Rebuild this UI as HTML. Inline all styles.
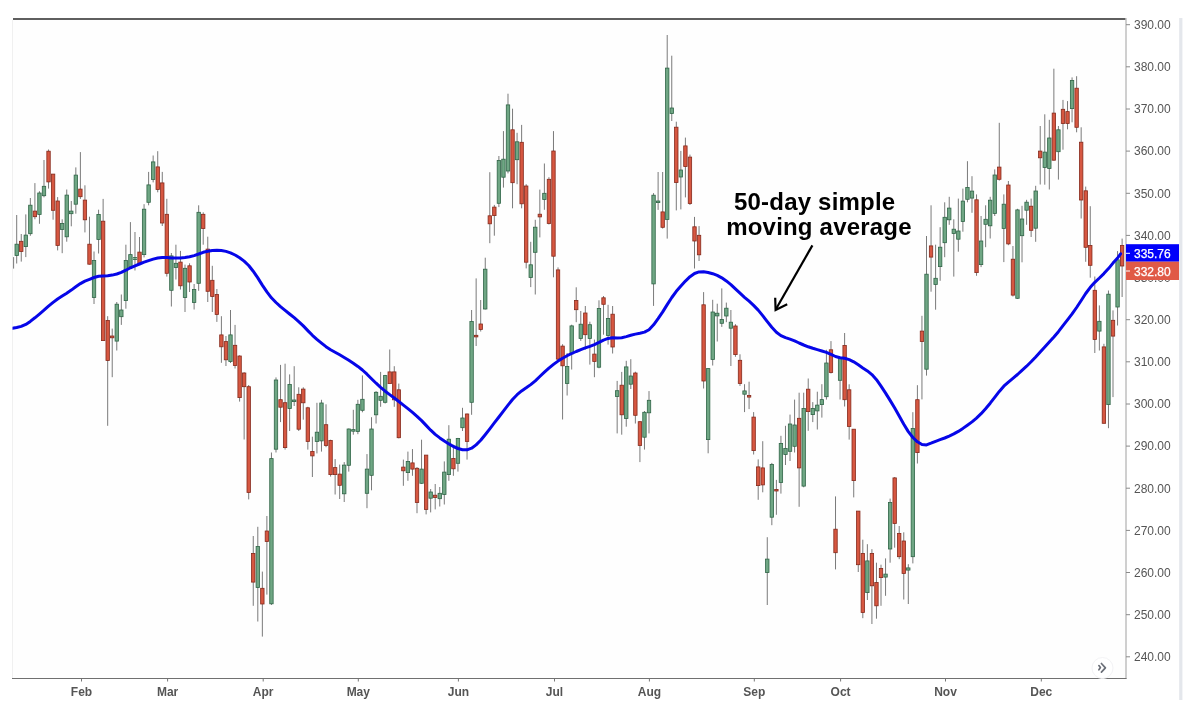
<!DOCTYPE html>
<html><head><meta charset="utf-8"><style>
html,body{margin:0;padding:0;background:#fff;}
body{width:1204px;height:706px;overflow:hidden;position:relative;}
svg{position:absolute;left:0;top:0;}
.pl{font-family:"Liberation Sans",Arial,sans-serif;font-size:12px;fill:#555;}
.ml{font-family:"Liberation Sans",Arial,sans-serif;font-size:12px;font-weight:bold;fill:#555;}
.an{font-family:"Liberation Sans",Arial,sans-serif;font-size:24px;font-weight:bold;fill:#000;letter-spacing:0.2px;}
.lb{font-family:"Liberation Sans",Arial,sans-serif;font-size:12px;fill:#fff;stroke:#fff;stroke-width:0.25px;}
</style></head><body>
<svg width="1204" height="706" viewBox="0 0 1204 706">
<rect x="0" y="0" width="1204" height="706" fill="#fff"/>
<rect x="12" y="20" width="1114" height="658" fill="#fefefe"/>
<line x1="12.5" y1="20" x2="12.5" y2="678" stroke="#f0f0f0" stroke-width="1"/>
<rect x="1179.2" y="18" width="3.2" height="682" fill="#e4e7ec"/>
<clipPath id="cp"><rect x="12.5" y="20" width="1113" height="658"/></clipPath>
<g clip-path="url(#cp)">
<path d="M16.70 215.0V263.5M21.25 234.0V261.6M25.80 214.4V257.1M30.35 198.0V235.8M34.90 183.1V219.3M39.44 191.2V223.8M43.99 160.0V197.3M48.54 149.5V188.6M53.09 174.1V219.7M57.64 197.1V250.4M62.19 219.3V253.2M66.74 189.5V241.7M71.29 201.0V226.3M75.84 167.4V213.7M80.39 152.1V198.9M84.93 185.3V232.4M89.48 216.7V264.6M94.03 251.5V304.0M98.58 209.7V253.5M103.13 198.9V341.0M107.68 316.2V425.8M112.23 328.6V377.2M116.78 302.0V350.5M121.33 294.5V324.9M125.88 244.7V308.7M130.42 222.1V268.0M134.97 232.0V270.5M139.52 237.0V264.5M144.07 204.2V257.4M148.62 171.9V205.3M153.17 155.5V182.4M157.72 151.2V192.3M162.27 171.9V226.0M166.82 198.8V276.6M171.37 253.0V306.5M175.91 244.7V279.5M180.46 250.9V289.5M185.01 264.6V312.0M189.56 263.3V292.0M194.11 284.0V309.5M198.66 205.3V290.8M203.21 212.3V244.7M207.76 236.7V302.0M212.31 265.8V312.0M216.86 289.0V321.9M221.40 316.2V362.8M225.95 336.0V366.0M230.50 310.0V363.0M235.05 324.9V368.5M239.60 355.3V401.6M244.15 372.2V439.5M248.70 385.0V499.4M253.25 536.0V605.8M257.80 526.8V621.5M262.35 571.6V636.6M266.89 516.0V594.6M271.44 452.5V605.0M275.99 377.4V452.5M280.54 364.9V422.1M285.09 363.7V449.6M289.64 374.4V431.0M294.19 366.2V406.0M298.74 387.3V431.0M303.29 387.3V419.7M307.83 406.8V449.6M312.38 436.7V477.0M316.93 402.8V453.4M321.48 399.8V451.6M326.03 404.3V447.2M330.58 439.7V476.6M335.13 459.1V494.5M339.68 464.6V499.0M344.23 462.1V502.0M348.78 428.5V471.6M353.32 409.8V434.7M357.87 399.8V434.2M362.42 375.4V412.3M366.97 454.1V508.2M371.52 417.2V490.3M376.07 391.1V423.5M380.62 371.9V406.8M385.17 374.9V403.5M389.72 349.5V383.6M394.27 366.2V406.8M398.81 383.6V438.4M403.36 459.6V485.8M407.91 451.6V480.8M412.46 449.1V475.8M417.01 467.1V513.2M421.56 439.7V484.0M426.11 455.0V514.4M430.66 489.0V512.4M435.21 484.0V509.4M439.76 487.0V506.5M444.31 461.4V504.5M448.85 425.2V480.8M453.40 444.7V475.8M457.95 437.9V471.6M462.50 407.8V431.0M467.05 413.5V459.6M471.60 310.0V414.8M476.15 278.4V346.0M480.70 300.0V331.5M485.25 257.7V309.5M489.80 172.2V243.2M494.34 204.9V235.7M498.89 156.0V207.1M503.44 131.1V187.6M507.99 93.7V173.4M512.54 108.7V208.3M517.09 132.8V184.2M521.64 124.9V208.3M526.19 184.2V268.4M530.74 241.8V287.1M535.28 219.8V294.5M539.83 189.6V237.4M544.38 163.5V209.8M548.93 177.2V224.5M553.48 131.1V277.3M558.03 267.4V360.0M562.58 344.2V419.5M567.13 353.0V395.5M571.68 324.7V369.5M576.23 287.3V322.2M580.77 311.0V340.9M585.32 306.0V349.6M589.87 321.7V364.6M594.42 339.6V377.2M598.97 300.3V368.3M603.52 296.0V334.7M608.07 304.8V344.6M612.62 306.0V353.5M617.17 380.9V433.4M621.72 371.9V434.7M626.26 360.8V426.7M630.81 359.2V389.0M635.36 371.7V423.5M639.91 421.0V462.1M644.46 411.0V449.6M649.01 391.1V433.4M653.56 193.1V305.9M658.11 172.0V209.9M662.66 172.0V228.6M667.21 35.0V238.6M671.75 55.7V121.0M676.30 121.7V210.4M680.85 150.9V209.4M685.40 137.6V197.4M689.95 154.6V205.0M694.50 216.9V268.5M699.05 226.1V261.0M703.60 292.1V388.5M708.15 368.5V453.3M712.70 299.8V365.5M717.25 303.7V341.5M721.79 288.4V326.9M726.34 302.6V322.2M730.89 310.0V366.0M735.44 324.2V356.8M739.99 354.3V385.9M744.54 384.2V412.1M749.09 381.7V409.1M753.64 412.1V454.5M758.19 459.4V499.8M762.74 441.2V492.3M767.28 537.2V605.0M771.83 462.9V525.2M776.38 479.9V514.8M780.93 435.8V493.6M785.48 425.8V465.0M790.03 414.6V461.0M794.58 399.6V452.5M799.13 392.7V506.8M803.68 392.7V487.3M808.23 378.5V430.8M812.77 402.1V422.1M817.32 391.7V429.5M821.87 384.2V417.6M826.42 349.8V399.6M830.97 341.1V373.5M835.52 496.4V569.4M840.07 358.3V399.5M844.62 333.0V406.5M849.17 384.3V439.6M853.72 429.2V497.4M858.26 511.0V572.0M862.81 539.7V618.2M867.36 544.2V600.0M871.91 549.2V624.0M876.46 562.7V618.7M881.01 564.7V605.8M885.56 558.4V595.8M890.11 498.6V562.7M894.66 477.0V547.7M899.21 526.0V559.2M903.75 532.3V599.5M908.30 564.2V604.0M912.85 412.2V563.4M917.40 385.2V463.5M921.95 315.8V399.4M926.50 236.0V375.6M931.05 205.3V291.7M935.60 244.7V309.7M940.15 227.2V280.8M944.70 202.3V257.2M949.24 196.8V224.8M953.79 219.3V276.6M958.34 198.6V251.7M962.89 188.6V231.7M967.44 161.2V202.3M971.99 176.2V212.8M976.54 194.4V275.8M981.09 216.0V267.1M985.64 205.3V247.2M990.19 196.8V238.5M994.73 169.4V216.0M999.28 122.8V180.6M1003.83 194.4V262.1M1008.38 181.0V245.2M1012.93 246.0V296.5M1017.48 208.8V299.0M1022.03 205.8V262.3M1026.58 199.8V224.8M1031.13 198.6V237.0M1035.68 185.8V241.8M1040.22 126.0V184.5M1044.77 114.3V184.7M1049.32 119.8V189.5M1053.87 68.7V160.5M1058.42 126.0V179.6M1062.97 99.9V149.7M1067.52 101.1V129.3M1072.07 77.4V122.3M1076.62 76.2V132.3M1081.17 127.3V218.5M1085.71 186.6V261.8M1090.26 206.2V277.7M1094.81 276.5V353.0M1099.36 305.4V350.5M1103.91 343.8V423.5M1108.46 290.5V428.2M1113.01 310.4V397.1M1117.56 251.1V325.5M1122.11 238.6V297.0M13.6 257.1V268.6" stroke="#7a7a7a" stroke-width="1" fill="none"/>
<rect x="15.00" y="244.2" width="3.4" height="11.3" fill="#6fa684" stroke="#2f6446" stroke-width="0.8"/><rect x="19.55" y="241.3" width="3.4" height="10.2" fill="#d65741" stroke="#85291b" stroke-width="0.8"/><rect x="24.10" y="235.1" width="3.4" height="11.5" fill="#6fa684" stroke="#2f6446" stroke-width="0.8"/><rect x="28.65" y="205.2" width="3.4" height="28.5" fill="#6fa684" stroke="#2f6446" stroke-width="0.8"/><rect x="33.20" y="211.1" width="3.4" height="5.6" fill="#d65741" stroke="#85291b" stroke-width="0.8"/><rect x="37.74" y="193.0" width="3.4" height="21.4" fill="#6fa684" stroke="#2f6446" stroke-width="0.8"/><rect x="42.29" y="186.3" width="3.4" height="9.4" fill="#6fa684" stroke="#2f6446" stroke-width="0.8"/><rect x="46.84" y="151.2" width="3.4" height="30.7" fill="#d65741" stroke="#85291b" stroke-width="0.8"/><rect x="51.39" y="174.1" width="3.4" height="36.2" fill="#d65741" stroke="#85291b" stroke-width="0.8"/><rect x="55.94" y="201.0" width="3.4" height="44.4" fill="#d65741" stroke="#85291b" stroke-width="0.8"/><rect x="60.49" y="223.5" width="3.4" height="5.9" fill="#6fa684" stroke="#2f6446" stroke-width="0.8"/><rect x="65.04" y="195.1" width="3.4" height="41.7" fill="#6fa684" stroke="#2f6446" stroke-width="0.8"/><rect x="69.59" y="211.1" width="3.4" height="2.6" fill="#6fa684" stroke="#2f6446" stroke-width="0.8"/><rect x="74.14" y="175.1" width="3.4" height="29.1" fill="#6fa684" stroke="#2f6446" stroke-width="0.8"/><rect x="78.69" y="189.1" width="3.4" height="7.6" fill="#d65741" stroke="#85291b" stroke-width="0.8"/><rect x="83.23" y="200.1" width="3.4" height="19.7" fill="#d65741" stroke="#85291b" stroke-width="0.8"/><rect x="87.78" y="244.2" width="3.4" height="20.0" fill="#d65741" stroke="#85291b" stroke-width="0.8"/><rect x="92.33" y="260.5" width="3.4" height="37.0" fill="#6fa684" stroke="#2f6446" stroke-width="0.8"/><rect x="96.88" y="214.4" width="3.4" height="25.0" fill="#6fa684" stroke="#2f6446" stroke-width="0.8"/><rect x="101.43" y="221.2" width="3.4" height="119.4" fill="#d65741" stroke="#85291b" stroke-width="0.8"/><rect x="105.98" y="320.4" width="3.4" height="40.1" fill="#d65741" stroke="#85291b" stroke-width="0.8"/><rect x="110.53" y="336.0" width="3.4" height="1.8" fill="#d65741" stroke="#85291b" stroke-width="0.8"/><rect x="115.08" y="304.2" width="3.4" height="36.9" fill="#6fa684" stroke="#2f6446" stroke-width="0.8"/><rect x="119.63" y="310.0" width="3.4" height="6.7" fill="#6fa684" stroke="#2f6446" stroke-width="0.8"/><rect x="124.18" y="260.5" width="3.4" height="40.1" fill="#6fa684" stroke="#2f6446" stroke-width="0.8"/><rect x="128.72" y="254.6" width="3.4" height="12.4" fill="#6fa684" stroke="#2f6446" stroke-width="0.8"/><rect x="133.27" y="257.6" width="3.4" height="1.9" fill="#6fa684" stroke="#2f6446" stroke-width="0.8"/><rect x="137.82" y="252.1" width="3.4" height="11.7" fill="#d65741" stroke="#85291b" stroke-width="0.8"/><rect x="142.37" y="209.2" width="3.4" height="45.4" fill="#6fa684" stroke="#2f6446" stroke-width="0.8"/><rect x="146.92" y="184.9" width="3.4" height="17.4" fill="#6fa684" stroke="#2f6446" stroke-width="0.8"/><rect x="151.47" y="161.9" width="3.4" height="17.5" fill="#6fa684" stroke="#2f6446" stroke-width="0.8"/><rect x="156.02" y="166.9" width="3.4" height="22.6" fill="#d65741" stroke="#85291b" stroke-width="0.8"/><rect x="160.57" y="182.9" width="3.4" height="40.1" fill="#d65741" stroke="#85291b" stroke-width="0.8"/><rect x="165.12" y="214.3" width="3.4" height="59.0" fill="#d65741" stroke="#85291b" stroke-width="0.8"/><rect x="169.67" y="255.9" width="3.4" height="34.4" fill="#6fa684" stroke="#2f6446" stroke-width="0.8"/><rect x="174.21" y="263.3" width="3.4" height="4.3" fill="#6fa684" stroke="#2f6446" stroke-width="0.8"/><rect x="178.76" y="262.1" width="3.4" height="23.7" fill="#d65741" stroke="#85291b" stroke-width="0.8"/><rect x="183.31" y="268.3" width="3.4" height="29.2" fill="#6fa684" stroke="#2f6446" stroke-width="0.8"/><rect x="187.86" y="265.8" width="3.4" height="16.2" fill="#d65741" stroke="#85291b" stroke-width="0.8"/><rect x="192.41" y="289.5" width="3.4" height="13.0" fill="#6fa684" stroke="#2f6446" stroke-width="0.8"/><rect x="196.96" y="212.3" width="3.4" height="71.0" fill="#6fa684" stroke="#2f6446" stroke-width="0.8"/><rect x="201.51" y="214.3" width="3.4" height="14.2" fill="#d65741" stroke="#85291b" stroke-width="0.8"/><rect x="206.06" y="249.1" width="3.4" height="42.2" fill="#d65741" stroke="#85291b" stroke-width="0.8"/><rect x="210.61" y="280.3" width="3.4" height="16.2" fill="#d65741" stroke="#85291b" stroke-width="0.8"/><rect x="215.16" y="294.5" width="3.4" height="19.9" fill="#d65741" stroke="#85291b" stroke-width="0.8"/><rect x="219.70" y="334.9" width="3.4" height="11.9" fill="#d65741" stroke="#85291b" stroke-width="0.8"/><rect x="224.25" y="341.6" width="3.4" height="18.2" fill="#d65741" stroke="#85291b" stroke-width="0.8"/><rect x="228.80" y="334.9" width="3.4" height="26.6" fill="#6fa684" stroke="#2f6446" stroke-width="0.8"/><rect x="233.35" y="345.3" width="3.4" height="20.2" fill="#d65741" stroke="#85291b" stroke-width="0.8"/><rect x="237.90" y="356.0" width="3.4" height="41.6" fill="#d65741" stroke="#85291b" stroke-width="0.8"/><rect x="242.45" y="373.0" width="3.4" height="13.7" fill="#d65741" stroke="#85291b" stroke-width="0.8"/><rect x="247.00" y="386.7" width="3.4" height="105.7" fill="#d65741" stroke="#85291b" stroke-width="0.8"/><rect x="251.55" y="553.4" width="3.4" height="28.7" fill="#d65741" stroke="#85291b" stroke-width="0.8"/><rect x="256.10" y="546.5" width="3.4" height="41.1" fill="#6fa684" stroke="#2f6446" stroke-width="0.8"/><rect x="260.65" y="588.3" width="3.4" height="15.7" fill="#d65741" stroke="#85291b" stroke-width="0.8"/><rect x="265.19" y="531.0" width="3.4" height="10.5" fill="#d65741" stroke="#85291b" stroke-width="0.8"/><rect x="269.74" y="458.6" width="3.4" height="145.2" fill="#6fa684" stroke="#2f6446" stroke-width="0.8"/><rect x="274.29" y="380.0" width="3.4" height="69.2" fill="#6fa684" stroke="#2f6446" stroke-width="0.8"/><rect x="278.84" y="399.7" width="3.4" height="7.5" fill="#d65741" stroke="#85291b" stroke-width="0.8"/><rect x="283.39" y="402.7" width="3.4" height="44.9" fill="#d65741" stroke="#85291b" stroke-width="0.8"/><rect x="287.94" y="384.5" width="3.4" height="24.0" fill="#6fa684" stroke="#2f6446" stroke-width="0.8"/><rect x="292.49" y="400.0" width="3.4" height="1.6" fill="#6fa684" stroke="#2f6446" stroke-width="0.8"/><rect x="297.04" y="394.3" width="3.4" height="34.9" fill="#d65741" stroke="#85291b" stroke-width="0.8"/><rect x="301.59" y="389.1" width="3.4" height="13.7" fill="#d65741" stroke="#85291b" stroke-width="0.8"/><rect x="306.13" y="407.8" width="3.4" height="33.6" fill="#d65741" stroke="#85291b" stroke-width="0.8"/><rect x="310.68" y="451.4" width="3.4" height="4.5" fill="#d65741" stroke="#85291b" stroke-width="0.8"/><rect x="315.23" y="432.2" width="3.4" height="9.2" fill="#6fa684" stroke="#2f6446" stroke-width="0.8"/><rect x="319.78" y="403.0" width="3.4" height="37.9" fill="#6fa684" stroke="#2f6446" stroke-width="0.8"/><rect x="324.33" y="424.7" width="3.4" height="20.7" fill="#d65741" stroke="#85291b" stroke-width="0.8"/><rect x="328.88" y="440.4" width="3.4" height="34.2" fill="#d65741" stroke="#85291b" stroke-width="0.8"/><rect x="333.43" y="467.6" width="3.4" height="7.0" fill="#d65741" stroke="#85291b" stroke-width="0.8"/><rect x="337.98" y="474.1" width="3.4" height="11.2" fill="#d65741" stroke="#85291b" stroke-width="0.8"/><rect x="342.53" y="465.1" width="3.4" height="28.7" fill="#6fa684" stroke="#2f6446" stroke-width="0.8"/><rect x="347.08" y="429.0" width="3.4" height="36.3" fill="#6fa684" stroke="#2f6446" stroke-width="0.8"/><rect x="351.62" y="429.6" width="3.4" height="1.6" fill="#6fa684" stroke="#2f6446" stroke-width="0.8"/><rect x="356.17" y="404.3" width="3.4" height="27.2" fill="#6fa684" stroke="#2f6446" stroke-width="0.8"/><rect x="360.72" y="399.3" width="3.4" height="11.0" fill="#6fa684" stroke="#2f6446" stroke-width="0.8"/><rect x="365.27" y="469.1" width="3.4" height="24.2" fill="#6fa684" stroke="#2f6446" stroke-width="0.8"/><rect x="369.82" y="429.0" width="3.4" height="46.3" fill="#6fa684" stroke="#2f6446" stroke-width="0.8"/><rect x="374.37" y="392.3" width="3.4" height="22.5" fill="#6fa684" stroke="#2f6446" stroke-width="0.8"/><rect x="378.92" y="396.3" width="3.4" height="4.0" fill="#6fa684" stroke="#2f6446" stroke-width="0.8"/><rect x="383.47" y="375.6" width="3.4" height="26.7" fill="#6fa684" stroke="#2f6446" stroke-width="0.8"/><rect x="388.02" y="371.9" width="3.4" height="11.7" fill="#d65741" stroke="#85291b" stroke-width="0.8"/><rect x="392.57" y="371.9" width="3.4" height="27.9" fill="#d65741" stroke="#85291b" stroke-width="0.8"/><rect x="397.12" y="389.8" width="3.4" height="47.9" fill="#d65741" stroke="#85291b" stroke-width="0.8"/><rect x="401.66" y="467.1" width="3.4" height="3.7" fill="#d65741" stroke="#85291b" stroke-width="0.8"/><rect x="406.21" y="461.4" width="3.4" height="11.2" fill="#6fa684" stroke="#2f6446" stroke-width="0.8"/><rect x="410.76" y="462.9" width="3.4" height="6.2" fill="#d65741" stroke="#85291b" stroke-width="0.8"/><rect x="415.31" y="468.3" width="3.4" height="34.2" fill="#d65741" stroke="#85291b" stroke-width="0.8"/><rect x="419.86" y="469.1" width="3.4" height="14.2" fill="#6fa684" stroke="#2f6446" stroke-width="0.8"/><rect x="424.41" y="455.1" width="3.4" height="54.3" fill="#d65741" stroke="#85291b" stroke-width="0.8"/><rect x="428.96" y="492.0" width="3.4" height="6.2" fill="#6fa684" stroke="#2f6446" stroke-width="0.8"/><rect x="433.51" y="495.2" width="3.4" height="2.3" fill="#d65741" stroke="#85291b" stroke-width="0.8"/><rect x="438.06" y="493.3" width="3.4" height="5.4" fill="#6fa684" stroke="#2f6446" stroke-width="0.8"/><rect x="442.61" y="472.1" width="3.4" height="22.4" fill="#6fa684" stroke="#2f6446" stroke-width="0.8"/><rect x="447.15" y="439.2" width="3.4" height="35.4" fill="#6fa684" stroke="#2f6446" stroke-width="0.8"/><rect x="451.70" y="458.4" width="3.4" height="10.4" fill="#d65741" stroke="#85291b" stroke-width="0.8"/><rect x="456.25" y="438.4" width="3.4" height="24.9" fill="#6fa684" stroke="#2f6446" stroke-width="0.8"/><rect x="460.80" y="418.0" width="3.4" height="9.7" fill="#6fa684" stroke="#2f6446" stroke-width="0.8"/><rect x="465.35" y="414.0" width="3.4" height="27.4" fill="#d65741" stroke="#85291b" stroke-width="0.8"/><rect x="469.90" y="321.5" width="3.4" height="80.8" fill="#6fa684" stroke="#2f6446" stroke-width="0.8"/><rect x="474.45" y="335.3" width="3.4" height="1.6" fill="#d65741" stroke="#85291b" stroke-width="0.8"/><rect x="479.00" y="324.0" width="3.4" height="5.5" fill="#d65741" stroke="#85291b" stroke-width="0.8"/><rect x="483.55" y="269.2" width="3.4" height="39.8" fill="#6fa684" stroke="#2f6446" stroke-width="0.8"/><rect x="488.10" y="215.8" width="3.4" height="8.0" fill="#d65741" stroke="#85291b" stroke-width="0.8"/><rect x="492.64" y="207.1" width="3.4" height="8.5" fill="#d65741" stroke="#85291b" stroke-width="0.8"/><rect x="497.19" y="160.5" width="3.4" height="42.8" fill="#6fa684" stroke="#2f6446" stroke-width="0.8"/><rect x="501.74" y="159.2" width="3.4" height="18.0" fill="#6fa684" stroke="#2f6446" stroke-width="0.8"/><rect x="506.29" y="104.9" width="3.4" height="66.1" fill="#6fa684" stroke="#2f6446" stroke-width="0.8"/><rect x="510.84" y="129.8" width="3.4" height="52.9" fill="#d65741" stroke="#85291b" stroke-width="0.8"/><rect x="515.39" y="141.8" width="3.4" height="17.9" fill="#6fa684" stroke="#2f6446" stroke-width="0.8"/><rect x="519.94" y="142.3" width="3.4" height="61.5" fill="#d65741" stroke="#85291b" stroke-width="0.8"/><rect x="524.49" y="186.0" width="3.4" height="76.2" fill="#d65741" stroke="#85291b" stroke-width="0.8"/><rect x="529.04" y="264.8" width="3.4" height="12.7" fill="#6fa684" stroke="#2f6446" stroke-width="0.8"/><rect x="533.58" y="227.2" width="3.4" height="25.1" fill="#6fa684" stroke="#2f6446" stroke-width="0.8"/><rect x="538.13" y="214.2" width="3.4" height="2.7" fill="#d65741" stroke="#85291b" stroke-width="0.8"/><rect x="542.68" y="193.3" width="3.4" height="6.2" fill="#6fa684" stroke="#2f6446" stroke-width="0.8"/><rect x="547.23" y="179.3" width="3.4" height="44.1" fill="#d65741" stroke="#85291b" stroke-width="0.8"/><rect x="551.78" y="151.0" width="3.4" height="105.2" fill="#d65741" stroke="#85291b" stroke-width="0.8"/><rect x="556.33" y="269.9" width="3.4" height="89.2" fill="#d65741" stroke="#85291b" stroke-width="0.8"/><rect x="560.88" y="346.1" width="3.4" height="19.7" fill="#d65741" stroke="#85291b" stroke-width="0.8"/><rect x="565.43" y="366.4" width="3.4" height="17.0" fill="#6fa684" stroke="#2f6446" stroke-width="0.8"/><rect x="569.98" y="325.9" width="3.4" height="27.9" fill="#6fa684" stroke="#2f6446" stroke-width="0.8"/><rect x="574.53" y="300.5" width="3.4" height="9.2" fill="#d65741" stroke="#85291b" stroke-width="0.8"/><rect x="579.07" y="324.2" width="3.4" height="14.2" fill="#6fa684" stroke="#2f6446" stroke-width="0.8"/><rect x="583.62" y="313.0" width="3.4" height="21.7" fill="#d65741" stroke="#85291b" stroke-width="0.8"/><rect x="588.17" y="324.7" width="3.4" height="13.7" fill="#6fa684" stroke="#2f6446" stroke-width="0.8"/><rect x="592.72" y="354.1" width="3.4" height="7.3" fill="#d65741" stroke="#85291b" stroke-width="0.8"/><rect x="597.27" y="308.5" width="3.4" height="58.7" fill="#6fa684" stroke="#2f6446" stroke-width="0.8"/><rect x="601.82" y="297.8" width="3.4" height="6.5" fill="#d65741" stroke="#85291b" stroke-width="0.8"/><rect x="606.37" y="318.5" width="3.4" height="16.9" fill="#6fa684" stroke="#2f6446" stroke-width="0.8"/><rect x="610.92" y="314.2" width="3.4" height="32.8" fill="#d65741" stroke="#85291b" stroke-width="0.8"/><rect x="615.47" y="390.7" width="3.4" height="5.8" fill="#6fa684" stroke="#2f6446" stroke-width="0.8"/><rect x="620.02" y="385.2" width="3.4" height="29.6" fill="#d65741" stroke="#85291b" stroke-width="0.8"/><rect x="624.56" y="366.9" width="3.4" height="51.6" fill="#6fa684" stroke="#2f6446" stroke-width="0.8"/><rect x="629.11" y="376.0" width="3.4" height="8.2" fill="#6fa684" stroke="#2f6446" stroke-width="0.8"/><rect x="633.66" y="373.0" width="3.4" height="42.3" fill="#d65741" stroke="#85291b" stroke-width="0.8"/><rect x="638.21" y="421.7" width="3.4" height="23.7" fill="#d65741" stroke="#85291b" stroke-width="0.8"/><rect x="642.76" y="412.3" width="3.4" height="24.9" fill="#6fa684" stroke="#2f6446" stroke-width="0.8"/><rect x="647.31" y="400.3" width="3.4" height="12.5" fill="#6fa684" stroke="#2f6446" stroke-width="0.8"/><rect x="651.86" y="195.2" width="3.4" height="88.7" fill="#6fa684" stroke="#2f6446" stroke-width="0.8"/><rect x="656.41" y="201.0" width="3.4" height="1.6" fill="#6fa684" stroke="#2f6446" stroke-width="0.8"/><rect x="660.96" y="211.9" width="3.4" height="15.4" fill="#d65741" stroke="#85291b" stroke-width="0.8"/><rect x="665.51" y="68.1" width="3.4" height="151.3" fill="#6fa684" stroke="#2f6446" stroke-width="0.8"/><rect x="670.05" y="108.0" width="3.4" height="5.5" fill="#6fa684" stroke="#2f6446" stroke-width="0.8"/><rect x="674.60" y="127.2" width="3.4" height="55.3" fill="#d65741" stroke="#85291b" stroke-width="0.8"/><rect x="679.15" y="170.0" width="3.4" height="7.0" fill="#6fa684" stroke="#2f6446" stroke-width="0.8"/><rect x="683.70" y="145.9" width="3.4" height="20.7" fill="#d65741" stroke="#85291b" stroke-width="0.8"/><rect x="688.25" y="157.1" width="3.4" height="46.4" fill="#d65741" stroke="#85291b" stroke-width="0.8"/><rect x="692.80" y="226.8" width="3.4" height="14.2" fill="#d65741" stroke="#85291b" stroke-width="0.8"/><rect x="697.35" y="235.3" width="3.4" height="19.5" fill="#d65741" stroke="#85291b" stroke-width="0.8"/><rect x="701.90" y="304.8" width="3.4" height="76.2" fill="#d65741" stroke="#85291b" stroke-width="0.8"/><rect x="706.45" y="368.6" width="3.4" height="71.0" fill="#6fa684" stroke="#2f6446" stroke-width="0.8"/><rect x="711.00" y="312.0" width="3.4" height="47.4" fill="#6fa684" stroke="#2f6446" stroke-width="0.8"/><rect x="715.54" y="313.2" width="3.4" height="2.7" fill="#6fa684" stroke="#2f6446" stroke-width="0.8"/><rect x="720.09" y="319.4" width="3.4" height="3.9" fill="#6fa684" stroke="#2f6446" stroke-width="0.8"/><rect x="724.64" y="308.2" width="3.4" height="7.8" fill="#6fa684" stroke="#2f6446" stroke-width="0.8"/><rect x="729.19" y="322.2" width="3.4" height="6.0" fill="#6fa684" stroke="#2f6446" stroke-width="0.8"/><rect x="733.74" y="326.0" width="3.4" height="28.6" fill="#d65741" stroke="#85291b" stroke-width="0.8"/><rect x="738.29" y="360.3" width="3.4" height="23.1" fill="#d65741" stroke="#85291b" stroke-width="0.8"/><rect x="742.84" y="390.9" width="3.4" height="3.3" fill="#6fa684" stroke="#2f6446" stroke-width="0.8"/><rect x="747.39" y="395.5" width="3.4" height="1.6" fill="#d65741" stroke="#85291b" stroke-width="0.8"/><rect x="751.94" y="417.1" width="3.4" height="33.5" fill="#d65741" stroke="#85291b" stroke-width="0.8"/><rect x="756.49" y="466.9" width="3.4" height="18.7" fill="#d65741" stroke="#85291b" stroke-width="0.8"/><rect x="761.03" y="467.9" width="3.4" height="17.0" fill="#d65741" stroke="#85291b" stroke-width="0.8"/><rect x="765.58" y="559.1" width="3.4" height="13.5" fill="#6fa684" stroke="#2f6446" stroke-width="0.8"/><rect x="770.13" y="464.4" width="3.4" height="52.8" fill="#6fa684" stroke="#2f6446" stroke-width="0.8"/><rect x="774.68" y="489.4" width="3.4" height="1.6" fill="#d65741" stroke="#85291b" stroke-width="0.8"/><rect x="779.23" y="443.5" width="3.4" height="38.9" fill="#6fa684" stroke="#2f6446" stroke-width="0.8"/><rect x="783.78" y="448.5" width="3.4" height="6.0" fill="#6fa684" stroke="#2f6446" stroke-width="0.8"/><rect x="788.33" y="424.0" width="3.4" height="27.3" fill="#6fa684" stroke="#2f6446" stroke-width="0.8"/><rect x="792.88" y="425.0" width="3.4" height="21.3" fill="#6fa684" stroke="#2f6446" stroke-width="0.8"/><rect x="797.43" y="418.3" width="3.4" height="49.6" fill="#d65741" stroke="#85291b" stroke-width="0.8"/><rect x="801.98" y="408.4" width="3.4" height="77.7" fill="#6fa684" stroke="#2f6446" stroke-width="0.8"/><rect x="806.52" y="389.2" width="3.4" height="22.4" fill="#d65741" stroke="#85291b" stroke-width="0.8"/><rect x="811.07" y="408.4" width="3.4" height="6.2" fill="#6fa684" stroke="#2f6446" stroke-width="0.8"/><rect x="815.62" y="405.1" width="3.4" height="5.8" fill="#6fa684" stroke="#2f6446" stroke-width="0.8"/><rect x="820.17" y="399.6" width="3.4" height="5.0" fill="#6fa684" stroke="#2f6446" stroke-width="0.8"/><rect x="824.72" y="363.0" width="3.4" height="33.7" fill="#6fa684" stroke="#2f6446" stroke-width="0.8"/><rect x="829.27" y="349.8" width="3.4" height="22.7" fill="#d65741" stroke="#85291b" stroke-width="0.8"/><rect x="833.82" y="529.2" width="3.4" height="23.5" fill="#d65741" stroke="#85291b" stroke-width="0.8"/><rect x="838.37" y="358.5" width="3.4" height="21.8" fill="#6fa684" stroke="#2f6446" stroke-width="0.8"/><rect x="842.92" y="345.4" width="3.4" height="54.3" fill="#d65741" stroke="#85291b" stroke-width="0.8"/><rect x="847.47" y="389.8" width="3.4" height="36.7" fill="#d65741" stroke="#85291b" stroke-width="0.8"/><rect x="852.01" y="429.2" width="3.4" height="51.4" fill="#d65741" stroke="#85291b" stroke-width="0.8"/><rect x="856.56" y="511.1" width="3.4" height="53.6" fill="#d65741" stroke="#85291b" stroke-width="0.8"/><rect x="861.11" y="553.4" width="3.4" height="59.1" fill="#d65741" stroke="#85291b" stroke-width="0.8"/><rect x="865.66" y="560.9" width="3.4" height="31.7" fill="#6fa684" stroke="#2f6446" stroke-width="0.8"/><rect x="870.21" y="553.4" width="3.4" height="32.4" fill="#d65741" stroke="#85291b" stroke-width="0.8"/><rect x="874.76" y="582.6" width="3.4" height="23.2" fill="#d65741" stroke="#85291b" stroke-width="0.8"/><rect x="879.31" y="568.4" width="3.4" height="9.2" fill="#d65741" stroke="#85291b" stroke-width="0.8"/><rect x="883.86" y="574.1" width="3.4" height="3.0" fill="#6fa684" stroke="#2f6446" stroke-width="0.8"/><rect x="888.41" y="502.4" width="3.4" height="46.6" fill="#6fa684" stroke="#2f6446" stroke-width="0.8"/><rect x="892.96" y="477.9" width="3.4" height="45.6" fill="#d65741" stroke="#85291b" stroke-width="0.8"/><rect x="897.50" y="533.5" width="3.4" height="23.2" fill="#d65741" stroke="#85291b" stroke-width="0.8"/><rect x="902.05" y="541.0" width="3.4" height="32.4" fill="#d65741" stroke="#85291b" stroke-width="0.8"/><rect x="906.60" y="567.9" width="3.4" height="2.2" fill="#6fa684" stroke="#2f6446" stroke-width="0.8"/><rect x="911.15" y="428.4" width="3.4" height="128.3" fill="#6fa684" stroke="#2f6446" stroke-width="0.8"/><rect x="915.70" y="399.7" width="3.4" height="52.9" fill="#d65741" stroke="#85291b" stroke-width="0.8"/><rect x="920.25" y="331.1" width="3.4" height="10.4" fill="#d65741" stroke="#85291b" stroke-width="0.8"/><rect x="924.80" y="274.2" width="3.4" height="95.0" fill="#6fa684" stroke="#2f6446" stroke-width="0.8"/><rect x="929.35" y="245.9" width="3.4" height="11.2" fill="#d65741" stroke="#85291b" stroke-width="0.8"/><rect x="933.90" y="278.3" width="3.4" height="6.2" fill="#6fa684" stroke="#2f6446" stroke-width="0.8"/><rect x="938.45" y="247.2" width="3.4" height="19.4" fill="#6fa684" stroke="#2f6446" stroke-width="0.8"/><rect x="943.00" y="217.3" width="3.4" height="25.4" fill="#6fa684" stroke="#2f6446" stroke-width="0.8"/><rect x="947.54" y="208.1" width="3.4" height="11.7" fill="#6fa684" stroke="#2f6446" stroke-width="0.8"/><rect x="952.09" y="229.2" width="3.4" height="4.3" fill="#6fa684" stroke="#2f6446" stroke-width="0.8"/><rect x="956.64" y="231.0" width="3.4" height="8.2" fill="#6fa684" stroke="#2f6446" stroke-width="0.8"/><rect x="961.19" y="201.1" width="3.4" height="20.4" fill="#6fa684" stroke="#2f6446" stroke-width="0.8"/><rect x="965.74" y="187.4" width="3.4" height="11.9" fill="#6fa684" stroke="#2f6446" stroke-width="0.8"/><rect x="970.29" y="191.1" width="3.4" height="7.0" fill="#6fa684" stroke="#2f6446" stroke-width="0.8"/><rect x="974.84" y="199.8" width="3.4" height="72.8" fill="#d65741" stroke="#85291b" stroke-width="0.8"/><rect x="979.39" y="241.0" width="3.4" height="23.6" fill="#6fa684" stroke="#2f6446" stroke-width="0.8"/><rect x="983.94" y="219.3" width="3.4" height="5.0" fill="#6fa684" stroke="#2f6446" stroke-width="0.8"/><rect x="988.49" y="200.2" width="3.4" height="25.6" fill="#6fa684" stroke="#2f6446" stroke-width="0.8"/><rect x="993.03" y="175.0" width="3.4" height="38.4" fill="#6fa684" stroke="#2f6446" stroke-width="0.8"/><rect x="997.58" y="167.1" width="3.4" height="12.2" fill="#d65741" stroke="#85291b" stroke-width="0.8"/><rect x="1002.13" y="204.2" width="3.4" height="24.2" fill="#6fa684" stroke="#2f6446" stroke-width="0.8"/><rect x="1006.68" y="185.0" width="3.4" height="58.9" fill="#d65741" stroke="#85291b" stroke-width="0.8"/><rect x="1011.23" y="259.2" width="3.4" height="35.9" fill="#d65741" stroke="#85291b" stroke-width="0.8"/><rect x="1015.78" y="209.9" width="3.4" height="88.4" fill="#6fa684" stroke="#2f6446" stroke-width="0.8"/><rect x="1020.33" y="219.0" width="3.4" height="16.7" fill="#6fa684" stroke="#2f6446" stroke-width="0.8"/><rect x="1024.88" y="202.2" width="3.4" height="8.0" fill="#6fa684" stroke="#2f6446" stroke-width="0.8"/><rect x="1029.43" y="206.2" width="3.4" height="24.1" fill="#d65741" stroke="#85291b" stroke-width="0.8"/><rect x="1033.98" y="191.0" width="3.4" height="37.2" fill="#6fa684" stroke="#2f6446" stroke-width="0.8"/><rect x="1038.52" y="151.1" width="3.4" height="6.7" fill="#d65741" stroke="#85291b" stroke-width="0.8"/><rect x="1043.07" y="152.1" width="3.4" height="15.4" fill="#6fa684" stroke="#2f6446" stroke-width="0.8"/><rect x="1047.62" y="138.0" width="3.4" height="30.5" fill="#6fa684" stroke="#2f6446" stroke-width="0.8"/><rect x="1052.17" y="113.1" width="3.4" height="47.1" fill="#d65741" stroke="#85291b" stroke-width="0.8"/><rect x="1056.72" y="129.8" width="3.4" height="21.9" fill="#6fa684" stroke="#2f6446" stroke-width="0.8"/><rect x="1061.27" y="109.3" width="3.4" height="14.2" fill="#d65741" stroke="#85291b" stroke-width="0.8"/><rect x="1065.82" y="111.6" width="3.4" height="11.9" fill="#d65741" stroke="#85291b" stroke-width="0.8"/><rect x="1070.37" y="80.4" width="3.4" height="28.2" fill="#6fa684" stroke="#2f6446" stroke-width="0.8"/><rect x="1074.92" y="88.2" width="3.4" height="39.1" fill="#d65741" stroke="#85291b" stroke-width="0.8"/><rect x="1079.47" y="142.2" width="3.4" height="57.8" fill="#d65741" stroke="#85291b" stroke-width="0.8"/><rect x="1084.01" y="190.8" width="3.4" height="56.5" fill="#d65741" stroke="#85291b" stroke-width="0.8"/><rect x="1088.56" y="245.4" width="3.4" height="19.9" fill="#d65741" stroke="#85291b" stroke-width="0.8"/><rect x="1093.11" y="290.3" width="3.4" height="49.1" fill="#d65741" stroke="#85291b" stroke-width="0.8"/><rect x="1097.66" y="321.3" width="3.4" height="9.8" fill="#6fa684" stroke="#2f6446" stroke-width="0.8"/><rect x="1102.21" y="346.9" width="3.4" height="76.4" fill="#d65741" stroke="#85291b" stroke-width="0.8"/><rect x="1106.76" y="294.2" width="3.4" height="110.4" fill="#6fa684" stroke="#2f6446" stroke-width="0.8"/><rect x="1111.31" y="320.3" width="3.4" height="15.8" fill="#d65741" stroke="#85291b" stroke-width="0.8"/><rect x="1115.86" y="259.8" width="3.4" height="47.2" fill="#6fa684" stroke="#2f6446" stroke-width="0.8"/><rect x="1120.41" y="245.4" width="3.4" height="20.6" fill="#d65741" stroke="#85291b" stroke-width="0.8"/>
<path d="M12.5 328.3 L16.7 327.5 L21.2 326.4 L25.8 324.4 L30.3 321.4 L34.9 317.8 L39.4 314.1 L44.0 310.2 L48.5 306.2 L53.1 302.4 L57.6 299.0 L62.2 296.0 L66.7 293.2 L71.3 290.1 L75.8 286.8 L80.4 283.6 L84.9 281.1 L89.5 279.3 L94.0 277.5 L98.6 276.2 L103.1 275.9 L107.7 275.8 L112.2 275.1 L116.8 274.0 L121.3 272.4 L125.9 270.2 L130.4 267.8 L135.0 265.8 L139.5 264.0 L144.1 262.2 L148.6 260.6 L153.2 259.1 L157.7 258.0 L162.3 257.4 L166.8 257.5 L171.4 257.9 L175.9 258.1 L180.5 258.1 L185.0 257.6 L189.6 256.8 L194.1 255.6 L198.7 254.0 L203.2 252.3 L207.8 251.2 L212.3 250.5 L216.9 250.3 L221.4 250.5 L226.0 251.4 L230.5 252.9 L235.1 255.0 L239.6 257.7 L244.1 261.1 L248.7 265.5 L253.2 271.2 L257.8 277.9 L262.3 285.1 L266.9 291.9 L271.4 297.8 L276.0 302.5 L280.5 306.6 L285.1 310.3 L289.6 314.0 L294.2 317.7 L298.7 321.6 L303.3 325.9 L307.8 330.6 L312.4 335.3 L316.9 339.3 L321.5 343.1 L326.0 346.7 L330.6 349.7 L335.1 352.2 L339.7 354.8 L344.2 357.5 L348.8 360.3 L353.3 363.2 L357.9 366.4 L362.4 370.0 L367.0 374.2 L371.5 378.7 L376.1 383.2 L380.6 387.4 L385.2 391.2 L389.7 394.6 L394.3 398.0 L398.8 401.5 L403.4 405.1 L407.9 408.7 L412.5 412.4 L417.0 416.3 L421.6 420.6 L426.1 425.4 L430.7 430.2 L435.2 434.4 L439.8 437.9 L444.3 441.0 L448.9 443.9 L453.4 446.5 L458.0 448.5 L462.5 449.7 L467.1 449.8 L471.6 448.2 L476.1 444.9 L480.7 440.3 L485.2 434.7 L489.8 428.8 L494.3 422.9 L498.9 417.0 L503.4 411.1 L508.0 405.2 L512.5 399.5 L517.1 394.7 L521.6 390.9 L526.2 387.8 L530.7 384.6 L535.3 380.8 L539.8 376.5 L544.4 372.2 L548.9 368.2 L553.5 364.4 L558.0 361.1 L562.6 358.2 L567.1 355.7 L571.7 353.5 L576.2 351.5 L580.8 349.6 L585.3 347.9 L589.9 346.3 L594.4 344.6 L599.0 342.4 L603.5 340.1 L608.1 338.4 L612.6 337.8 L617.2 337.9 L621.7 337.7 L626.3 336.6 L630.8 335.2 L635.4 334.1 L639.9 333.2 L644.5 332.1 L649.0 329.7 L653.6 324.8 L658.1 318.6 L662.7 311.9 L667.2 304.6 L671.8 297.5 L676.3 291.3 L680.9 286.0 L685.4 281.1 L690.0 276.7 L694.5 273.5 L699.0 271.9 L703.6 271.8 L708.1 272.5 L712.7 273.7 L717.2 275.4 L721.8 277.8 L726.3 280.9 L730.9 284.6 L735.4 288.9 L740.0 293.2 L744.5 297.3 L749.1 301.2 L753.6 305.4 L758.2 310.1 L762.7 315.6 L767.3 321.6 L771.8 327.3 L776.4 332.2 L780.9 335.6 L785.5 337.6 L790.0 339.1 L794.6 340.9 L799.1 343.0 L803.7 345.0 L808.2 346.8 L812.8 348.3 L817.3 349.6 L821.9 351.0 L826.4 352.4 L831.0 354.4 L835.5 356.5 L840.1 357.7 L844.6 358.3 L849.2 359.6 L853.7 361.8 L858.3 364.8 L862.8 367.9 L867.4 370.9 L871.9 374.6 L876.5 379.7 L881.0 386.1 L885.6 393.1 L890.1 400.4 L894.7 408.1 L899.2 416.1 L903.8 424.2 L908.3 431.6 L912.9 437.5 L917.4 441.8 L922.0 444.5 L926.5 444.9 L931.0 443.2 L935.6 441.3 L940.1 439.7 L944.7 438.0 L949.2 436.1 L953.8 433.9 L958.3 431.4 L962.9 428.4 L967.4 425.2 L972.0 421.9 L976.5 418.1 L981.1 413.7 L985.6 408.7 L990.2 403.2 L994.7 397.3 L999.3 391.4 L1003.8 386.2 L1008.4 382.1 L1012.9 378.4 L1017.5 374.5 L1022.0 370.3 L1026.6 366.2 L1031.1 361.8 L1035.7 357.0 L1040.2 352.0 L1044.8 347.0 L1049.3 342.0 L1053.9 337.0 L1058.4 331.7 L1063.0 325.7 L1067.5 319.8 L1072.1 313.9 L1076.6 307.5 L1081.2 300.5 L1085.7 293.5 L1090.3 287.3 L1094.8 282.3 L1099.4 278.0 L1103.9 273.6 L1108.5 268.6 L1113.0 263.1 L1117.6 258.0 L1120.6 253.8" stroke="#0606e8" stroke-width="3" fill="none" stroke-linejoin="round" stroke-linecap="round"/>
</g>
<rect x="13" y="18" width="1112.5" height="2" fill="#5f5f5f"/>
<line x1="1126" y1="18" x2="1126" y2="679" stroke="#a0a0a0" stroke-width="1"/>
<line x1="12" y1="678.5" x2="1126.5" y2="678.5" stroke="#707070" stroke-width="1"/>
<line x1="1126" y1="24.7" x2="1130" y2="24.7" stroke="#8a8a8a" stroke-width="1"/><text x="1134" y="29.0" class="pl">390.00</text><line x1="1126" y1="66.8" x2="1130" y2="66.8" stroke="#8a8a8a" stroke-width="1"/><text x="1134" y="71.1" class="pl">380.00</text><line x1="1126" y1="109.0" x2="1130" y2="109.0" stroke="#8a8a8a" stroke-width="1"/><text x="1134" y="113.3" class="pl">370.00</text><line x1="1126" y1="151.1" x2="1130" y2="151.1" stroke="#8a8a8a" stroke-width="1"/><text x="1134" y="155.4" class="pl">360.00</text><line x1="1126" y1="193.3" x2="1130" y2="193.3" stroke="#8a8a8a" stroke-width="1"/><text x="1134" y="197.6" class="pl">350.00</text><line x1="1126" y1="235.4" x2="1130" y2="235.4" stroke="#8a8a8a" stroke-width="1"/><text x="1134" y="239.7" class="pl">340.00</text><line x1="1126" y1="277.5" x2="1130" y2="277.5" stroke="#8a8a8a" stroke-width="1"/><text x="1134" y="281.8" class="pl">330.00</text><line x1="1126" y1="319.7" x2="1130" y2="319.7" stroke="#8a8a8a" stroke-width="1"/><text x="1134" y="324.0" class="pl">320.00</text><line x1="1126" y1="361.8" x2="1130" y2="361.8" stroke="#8a8a8a" stroke-width="1"/><text x="1134" y="366.1" class="pl">310.00</text><line x1="1126" y1="404.0" x2="1130" y2="404.0" stroke="#8a8a8a" stroke-width="1"/><text x="1134" y="408.3" class="pl">300.00</text><line x1="1126" y1="446.1" x2="1130" y2="446.1" stroke="#8a8a8a" stroke-width="1"/><text x="1134" y="450.4" class="pl">290.00</text><line x1="1126" y1="488.2" x2="1130" y2="488.2" stroke="#8a8a8a" stroke-width="1"/><text x="1134" y="492.5" class="pl">280.00</text><line x1="1126" y1="530.4" x2="1130" y2="530.4" stroke="#8a8a8a" stroke-width="1"/><text x="1134" y="534.7" class="pl">270.00</text><line x1="1126" y1="572.5" x2="1130" y2="572.5" stroke="#8a8a8a" stroke-width="1"/><text x="1134" y="576.8" class="pl">260.00</text><line x1="1126" y1="614.7" x2="1130" y2="614.7" stroke="#8a8a8a" stroke-width="1"/><text x="1134" y="619.0" class="pl">250.00</text><line x1="1126" y1="656.8" x2="1130" y2="656.8" stroke="#8a8a8a" stroke-width="1"/><text x="1134" y="661.1" class="pl">240.00</text>
<line x1="81.5" y1="679" x2="81.5" y2="681.5" stroke="#777" stroke-width="1"/><text x="81.5" y="695.8" class="ml" text-anchor="middle">Feb</text><line x1="167.6" y1="679" x2="167.6" y2="681.5" stroke="#777" stroke-width="1"/><text x="167.6" y="695.8" class="ml" text-anchor="middle">Mar</text><line x1="263.2" y1="679" x2="263.2" y2="681.5" stroke="#777" stroke-width="1"/><text x="263.2" y="695.8" class="ml" text-anchor="middle">Apr</text><line x1="358.3" y1="679" x2="358.3" y2="681.5" stroke="#777" stroke-width="1"/><text x="358.3" y="695.8" class="ml" text-anchor="middle">May</text><line x1="458.4" y1="679" x2="458.4" y2="681.5" stroke="#777" stroke-width="1"/><text x="458.4" y="695.8" class="ml" text-anchor="middle">Jun</text><line x1="554.5" y1="679" x2="554.5" y2="681.5" stroke="#777" stroke-width="1"/><text x="554.5" y="695.8" class="ml" text-anchor="middle">Jul</text><line x1="649.4" y1="679" x2="649.4" y2="681.5" stroke="#777" stroke-width="1"/><text x="649.4" y="695.8" class="ml" text-anchor="middle">Aug</text><line x1="754.3" y1="679" x2="754.3" y2="681.5" stroke="#777" stroke-width="1"/><text x="754.3" y="695.8" class="ml" text-anchor="middle">Sep</text><line x1="840.6" y1="679" x2="840.6" y2="681.5" stroke="#777" stroke-width="1"/><text x="840.6" y="695.8" class="ml" text-anchor="middle">Oct</text><line x1="945.5" y1="679" x2="945.5" y2="681.5" stroke="#777" stroke-width="1"/><text x="945.5" y="695.8" class="ml" text-anchor="middle">Nov</text><line x1="1041.3" y1="679" x2="1041.3" y2="681.5" stroke="#777" stroke-width="1"/><text x="1041.3" y="695.8" class="ml" text-anchor="middle">Dec</text>
<rect x="1126" y="244.2" width="53" height="17.5" fill="#0000fa"/>
<text x="1134" y="257.6" class="lb">335.76</text>
<rect x="1126" y="261.7" width="53" height="18.3" fill="#e05a46"/>
<text x="1134" y="275.6" class="lb">332.80</text>
<line x1="1126" y1="253.3" x2="1130" y2="253.3" stroke="#fff" stroke-width="1"/>
<line x1="1126" y1="271" x2="1130" y2="271" stroke="#fff" stroke-width="1"/>
<text x="734" y="210" class="an">50-day simple</text>
<text x="726.2" y="234.6" class="an">moving average</text>
<path d="M812.4 245.4L776 309" stroke="#000" stroke-width="2.2" fill="none"/>
<path d="M787.2 304.3L775.6 310L775.2 297.8" stroke="#000" stroke-width="2.2" fill="none" stroke-linejoin="miter"/>
<circle cx="1102.5" cy="668" r="10.5" fill="#fff" stroke="#f3f3f5" stroke-width="1"/>
<path d="M1098.9 665.6L1100.4 667.6L1098.9 669.8M1101.4 663.5L1105.4 667.8L1101.4 672.1" stroke="#6b6f78" stroke-width="1.7" fill="none" stroke-linecap="round" stroke-linejoin="round"/>
</svg>
</body></html>
